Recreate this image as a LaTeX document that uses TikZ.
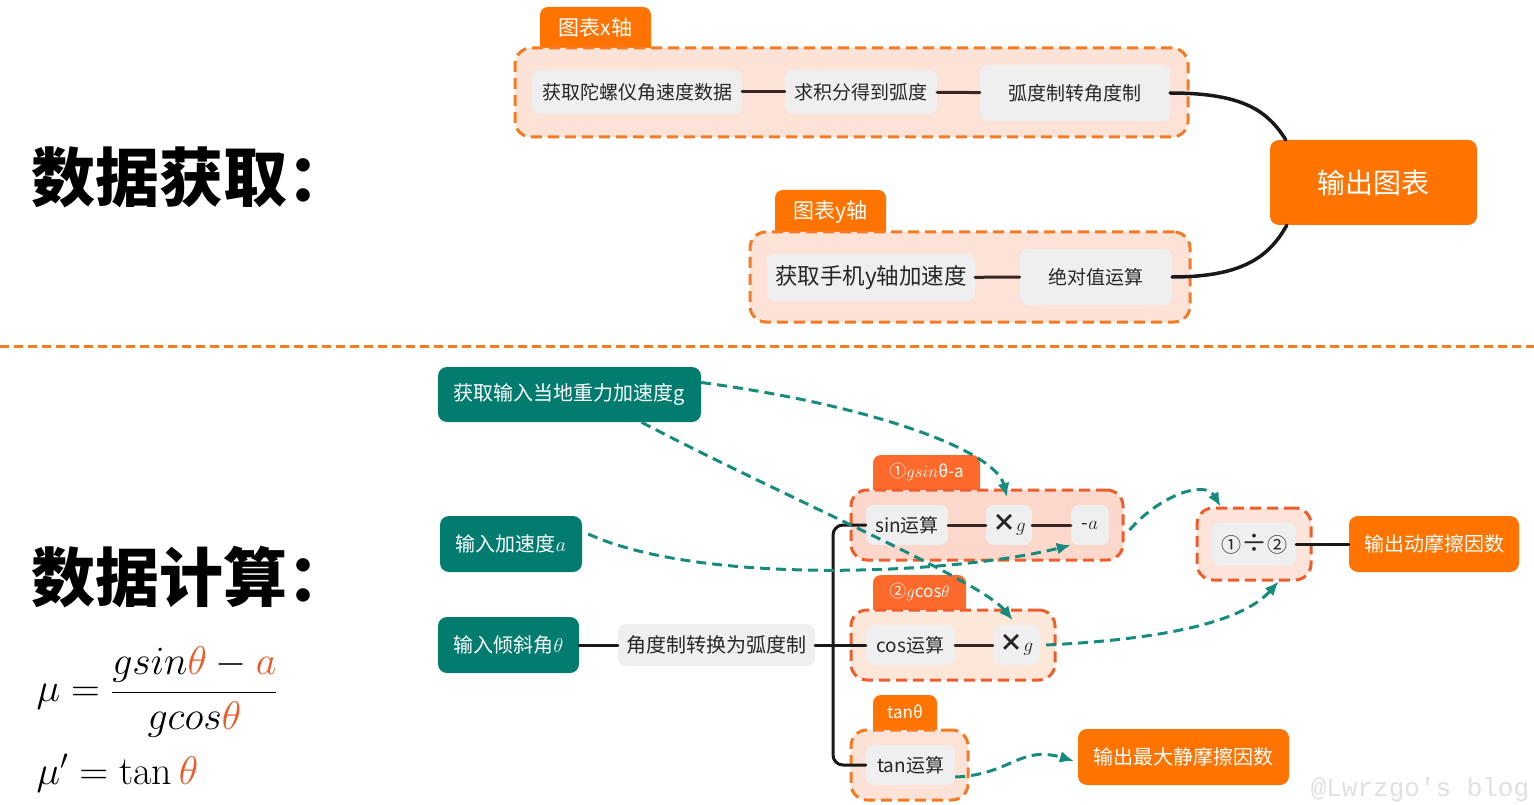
\RequirePackage{fix-cm}
\documentclass[tikz,border=0pt]{standalone}
\usepackage{fontspec}
\usetikzlibrary{arrows.meta}
\newfontfamily\cjk{Noto Sans CJK SC}
\newfontfamily\wmfont{Liberation Mono}
\newcommand\fsz[1]{\fontsize{#1}{#1}\selectfont}
\definecolor{orgmain}{HTML}{FF7300}
\definecolor{orgred}{HTML}{FD6A2B}
\definecolor{orgline}{HTML}{F57A22}
\definecolor{redline}{HTML}{EE5E2C}
\definecolor{peach}{HTML}{FDE3D7}
\definecolor{peachsin}{HTML}{FCD8CC}
\definecolor{peachcos}{HTML}{FDE7D8}
\definecolor{boxgray}{HTML}{EFEFEF}
\definecolor{tealbox}{HTML}{037C70}
\definecolor{tealarrow}{HTML}{158C7D}
\definecolor{linkbrown}{HTML}{3A2620}
\definecolor{mathred}{HTML}{F05A28}
\begin{document}
\begin{tikzpicture}[x=1pt, y=-1pt, line join=round, line cap=round, font=\cjk\fsz{19},
  op/.style={fill=boxgray, rounded corners=8, text=black!85, inner sep=0},
  grp/.style={fill=peach, draw=orgline, line width=3, line cap=butt, dash pattern=on 11pt off 6pt, rounded corners=16, inner sep=0},
  tagtxt/.style={text=white, font=\cjk\fsz{21}, inner sep=0},
  inbox/.style={fill=tealbox, rounded corners=9, text=white, inner sep=0, font=\cjk\fsz{20}},
  outbox/.style={fill=orgmain, rounded corners=9, text=white, inner sep=0, font=\cjk\fsz{20}},
  link/.style={draw=linkbrown, line width=3},
  trunk/.style={draw=black!90, line width=3},
  flow/.style={draw=tealarrow, line width=3, line cap=butt, dash pattern=on 10pt off 6pt, -{Latex[length=14pt,width=12pt]}},
  title/.style={anchor=west, font=\cjk\bfseries\fsz{64}}]
\useasboundingbox (0,0) rectangle (1534,805);
% data acquisition
\node[title] (ttop) at (28,177) {数据获取：};
\fill[orgmain, rounded corners=8] (540,60) rectangle (651,7);
\node[tagtxt] (tagx) at (595.5,28) {图表x轴};
\node[grp, minimum width=673, minimum height=89] (grpx) at (851.5,92.5) {};
\node[op, minimum width=210, minimum height=44] (gyro) at (637,92) {获取陀螺仪角速度数据};
\node[op, minimum width=152, minimum height=44] (integ) at (861,92) {求积分得到弧度};
\node[op, minimum width=190, minimum height=56] (todeg) at (1075,93) {弧度制转角度制};
\draw[link] (gyro) -- (integ);
\draw[link] (integ) -- (todeg);
\fill[orgmain, rounded corners=8] (775,244) rectangle (886,190);
\node[tagtxt] (tagy) at (830.5,212) {图表y轴};
\node[grp, minimum width=440, minimum height=90] (grpy) at (970,277) {};
\node[op, minimum width=208, minimum height=47, font=\cjk\fsz{22.5}] (acc) at (871,277.5) {获取手机y轴加速度};
\node[op, minimum width=152, minimum height=56] (absv) at (1096,277) {绝对值运算};
\draw[link] (acc) -- (absv);
\node[outbox, minimum width=207, minimum height=85, font=\cjk\fsz{28}] (chart) at (1373.5,182.5) {输出图表};
\draw[trunk, line width=3.5] (todeg.east) .. controls (1245,93) and (1268,112) .. ([xshift=16]chart.north west);
\draw[trunk, line width=3.5] (absv.east) .. controls (1245,277) and (1270,255) .. ([xshift=17]chart.south west);
\draw[orgline, line width=3, line cap=butt, dash pattern=on 9pt off 5pt] (0,346) -- (1534,346);
% computation
\node[title] (tbot) at (28,577) {数据计算：};
\node[anchor=west, font=\fsz{40}] (fmu) at (33,692) {$\displaystyle\mu=\frac{gsin\textcolor{mathred}{\theta}-\textcolor{mathred}{a}}{gcos\textcolor{mathred}{\theta}}$};
\node[anchor=west, font=\fsz{40}] (fmup) at (33,773) {$\mu'=\tan\textcolor{mathred}{\theta}$};
\node[inbox, minimum width=263, minimum height=55] (gin) at (569.5,394.5) {获取输入当地重力加速度g};
\node[inbox, minimum width=142, minimum height=56] (ain) at (511,544) {输入加速度$a$};
\node[inbox, minimum width=141, minimum height=56] (thin) at (508.5,645) {输入倾斜角$\theta$};
\node[op, minimum width=197, minimum height=42, font=\cjk\fsz{20}] (torad) at (716.5,645) {角度制转换为弧度制};
\fill[orgred, rounded corners=8] (873,500) rectangle (980,455);
\node[tagtxt, font=\cjk\fsz{17}] (tagsin) at (926.5,472) {①$gsin$θ-a};
\node[grp, fill=peachsin, draw=redline, minimum width=272, minimum height=70] (grpsin) at (987,525) {};
\node[op, minimum width=82, minimum height=40] (sinop) at (907,525) {sin运算};
\node[op, minimum width=46, minimum height=40] (mulg1) at (1009,525) {{\bfseries\fsz{24}×}$g$};
\node[op, minimum width=38, minimum height=40] (suba) at (1090,525) {-$a$};
\draw[link] (sinop) -- (mulg1);
\draw[link] (mulg1) -- (suba);
\fill[orgred, rounded corners=8] (873,620) rectangle (966,575);
\node[tagtxt, font=\cjk\fsz{17}] (tagcos) at (919.5,592) {②$g$cos$\theta$};
\node[grp, fill=peachcos, draw=redline, minimum width=204, minimum height=70] (grpcos) at (953,645) {};
\node[op, minimum width=89, minimum height=40] (cosop) at (910.5,645) {cos运算};
\node[op, minimum width=47, minimum height=40] (mulg2) at (1016.5,645) {{\bfseries\fsz{24}×}$g$};
\draw[link] (cosop) -- (mulg2);
\fill[orgmain, rounded corners=8] (873,740) rectangle (937,695);
\node[tagtxt, font=\cjk\fsz{17}] (tagtan) at (905,712) {tanθ};
\node[grp, minimum width=117, minimum height=70] (grptan) at (909.5,765) {};
\node[op, minimum width=89, minimum height=40] (tanop) at (910.5,765) {tan运算};
\coordinate (fork) at (833,645);
\draw[trunk] (thin) -- (torad);
\draw[trunk] (torad) -- (cosop);
\draw[trunk, rounded corners=10] (sinop.west) -| (fork) |- (tanop.west);
\node[grp, fill=peachsin!70!white, draw=redline, minimum width=114, minimum height=72] (grpdiv) at (1254,544) {};
\node[op, minimum width=84, minimum height=42, font=\cjk\fsz{20}] (div) at (1254,544) {①{\fsz{26}÷}②};
\node[outbox, minimum width=170, minimum height=56] (mu) at (1434,544) {输出动摩擦因数};
\draw[trunk] (div) -- (mu);
\node[outbox, minimum width=211, minimum height=56] (mus) at (1183.5,757) {输出最大静摩擦因数};
% dashed data flow
\draw[flow, shorten >=8pt] ([yshift=12]gin.east) .. controls (870,405) and (995,450) .. (mulg1.north);
\draw[flow, shorten >=6pt] ([xshift=72]gin.south) .. controls (780,495) and (980,580) .. (mulg2.north);
\draw[flow] ([shift={(6,-10)}]ain.east) .. controls (700,585) and (950,575) .. (suba.south west);
\draw[flow] ([shift={(5,5)}]grpsin.east) .. controls (1160,495) and (1205,480) .. ([xshift=25]grpdiv.north west);
\draw[flow] ([xshift=6]mulg2.east) .. controls (1150,640) and (1240,625) .. ([xshift=-34]grpdiv.south east);
\draw[flow] ([yshift=-12]tanop.east) .. controls (1010,775) and (1020,745) .. ([shift={(-4,4)}]mus.west);
\node[font=\wmfont\fsz{26}, text=black!12] (wm) at (1420,790) {@Lwrzgo\textquotesingle s blog};
\end{tikzpicture}
\end{document}
